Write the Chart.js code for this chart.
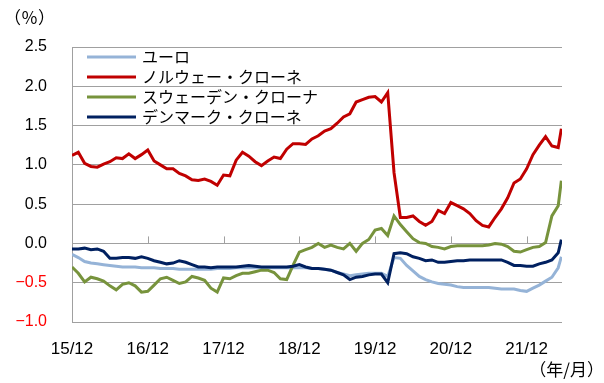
<!DOCTYPE html>
<html>
<head>
<meta charset="utf-8">
<script src="https://cdn.jsdelivr.net/npm/chart.js@4.4.1/dist/chart.umd.min.js"></script>
<style>
  html, body { margin: 0; padding: 0; background: #fff; }
  #wrap { width: 604px; height: 383px; position: relative; }
</style>
</head>
<body>
<div id="wrap"><canvas id="myChart"></canvas></div>
<script>
// months counted from Dec 2015, one point per month end
const months = [];
for (let i = 0; i < 78; i++) months.push(i);
months.push(77.5);

const tickMonths = [0, 12, 24, 36, 48, 60, 72];
const tickLabels = ['15/12', '16/12', '17/12', '18/12', '19/12', '20/12', '21/12'];

const seriesNames = ['ユーロ', 'ノルウェー・クローネ', 'スウェーデン・クローナ', 'デンマーク・クローネ'];

const euro = [
  -0.14, -0.18, -0.23, -0.25, -0.26, -0.27, -0.28, -0.29, -0.30, -0.30,
  -0.30, -0.31, -0.31, -0.31, -0.32, -0.32, -0.32, -0.33, -0.33, -0.33,
  -0.33, -0.33, -0.33, -0.32, -0.32, -0.32, -0.31, -0.31, -0.31, -0.31,
  -0.31, -0.31, -0.31, -0.31, -0.31, -0.31, -0.31, -0.31, -0.32, -0.32,
  -0.33, -0.34, -0.37, -0.39, -0.41, -0.40, -0.39, -0.38, -0.38, -0.38,
  -0.42, -0.18, -0.19, -0.28, -0.35, -0.42, -0.46, -0.49, -0.51, -0.52,
  -0.53, -0.55, -0.56, -0.56, -0.56, -0.56, -0.56, -0.57, -0.58, -0.58,
  -0.58, -0.60, -0.61, -0.57, -0.53, -0.48, -0.43, -0.31, -0.17
];

const norway = [
  1.12, 1.16, 1.02, 0.98, 0.97, 1.01, 1.04, 1.09, 1.08, 1.14,
  1.08, 1.13, 1.19, 1.05, 1.00, 0.95, 0.95, 0.89, 0.86, 0.81,
  0.80, 0.82, 0.79, 0.74, 0.87, 0.86, 1.06, 1.16, 1.11, 1.04,
  0.99, 1.05, 1.10, 1.08, 1.20, 1.27, 1.27, 1.26, 1.33, 1.37,
  1.43, 1.46, 1.53, 1.61, 1.65, 1.80, 1.83, 1.86, 1.87, 1.80,
  1.92, 0.90, 0.33, 0.33, 0.35, 0.28, 0.23, 0.28, 0.42, 0.38,
  0.52, 0.48, 0.44, 0.38, 0.29, 0.23, 0.21, 0.33, 0.44, 0.58,
  0.77, 0.82, 0.95, 1.13, 1.25, 1.36, 1.24, 1.22, 1.46
];

const sweden = [
  -0.30, -0.38, -0.49, -0.43, -0.45, -0.48, -0.54, -0.59, -0.52, -0.50,
  -0.54, -0.62, -0.61, -0.53, -0.45, -0.43, -0.47, -0.51, -0.49, -0.42,
  -0.44, -0.47, -0.57, -0.62, -0.44, -0.45, -0.41, -0.38, -0.38, -0.36,
  -0.34, -0.34, -0.37, -0.45, -0.46, -0.28, -0.11, -0.08, -0.05, 0.00,
  -0.05, -0.02, -0.05, -0.07, 0.00, -0.10, 0.00, 0.05, 0.17, 0.19,
  0.10, 0.35, 0.24, 0.15, 0.06, 0.01, 0.00, -0.04, -0.05, -0.07,
  -0.04, -0.03, -0.03, -0.03, -0.03, -0.03, -0.02, 0.00, -0.01, -0.04,
  -0.10, -0.11, -0.08, -0.05, -0.04, 0.01, 0.35, 0.48, 0.80
];

const denmark = [
  -0.07, -0.07, -0.06, -0.08, -0.07, -0.10, -0.19, -0.19, -0.18, -0.18,
  -0.19, -0.17, -0.19, -0.22, -0.24, -0.26, -0.25, -0.22, -0.24, -0.27,
  -0.30, -0.30, -0.31, -0.30, -0.30, -0.30, -0.30, -0.29, -0.28, -0.29,
  -0.30, -0.30, -0.30, -0.30, -0.30, -0.29, -0.27, -0.30, -0.32, -0.32,
  -0.33, -0.34, -0.37, -0.40, -0.46, -0.43, -0.42, -0.40, -0.39, -0.39,
  -0.50, -0.13, -0.12, -0.13, -0.17, -0.19, -0.22, -0.21, -0.24, -0.24,
  -0.23, -0.22, -0.22, -0.21, -0.21, -0.21, -0.21, -0.21, -0.21, -0.24,
  -0.28, -0.28, -0.29, -0.29, -0.26, -0.24, -0.21, -0.12, 0.05
];

const colors = ['#95b3d7', '#c00000', '#77933c', '#002060'];
const gridColor = '#a0a0a0';
const font = "'Liberation Sans', 'Noto Sans CJK JP', sans-serif";
const jpFont = "'Noto Sans CJK JP', sans-serif";

function toPoints(values) {
  return values.map((v, i) => ({ x: months[i], y: v }));
}

// legend, unit labels and the small ticks on the zero line
const extras = {
  id: 'extras',
  beforeDatasetsDraw(chart) {
    const c = chart.ctx;
    const x = chart.scales.x;
    const y0 = chart.scales.y.getPixelForValue(0);
    c.save();
    c.strokeStyle = gridColor;
    c.lineWidth = 1;
    tickMonths.slice(1).forEach(m => {
      const px = Math.round(x.getPixelForValue(m)) + 0.5;
      c.beginPath();
      c.moveTo(px, y0);
      c.lineTo(px, y0 - 7);
      c.stroke();
    });
    c.restore();
  },
  afterDraw(chart) {
    const c = chart.ctx;
    c.save();
    c.font = '16px ' + jpFont;
    c.fillStyle = '#000';
    c.textBaseline = 'middle';
    seriesNames.forEach((name, i) => {
      const ly = 57 + i * 20;
      c.strokeStyle = colors[i];
      c.lineWidth = 3;
      c.beginPath();
      c.moveTo(87, ly);
      c.lineTo(136, ly);
      c.stroke();
      c.fillText(name, 142, ly);
    });
    c.font = '17px ' + jpFont;
    c.fillText('（％）', 4, 18);
    c.textAlign = 'right';
    c.fillText('（年/月）', 604, 370);
    c.restore();
  }
};

const ctx = document.getElementById('myChart');

new Chart(ctx, {
  type: 'line',
  data: {
    datasets: [euro, norway, sweden, denmark].map((vals, i) => ({
      label: seriesNames[i],
      data: toPoints(vals),
      borderColor: colors[i],
      borderWidth: 3,
      pointRadius: 0,
      tension: 0,
      order: 4 - i
    }))
  },
  options: {
    responsive: true,
    maintainAspectRatio: false,
    animation: false,
    layout: { padding: { top: 47, right: 42, left: 0, bottom: 0 } },
    plugins: {
      legend: { display: false },
      tooltip: { enabled: false }
    },
    scales: {
      x: {
        type: 'linear',
        min: 0,
        max: 77.6,
        afterBuildTicks: s => { s.ticks = tickMonths.map(v => ({ value: v })); },
        afterFit: s => { s.height = 61; },
        grid: { display: false, drawTicks: false },
        border: { display: false },
        ticks: {
          padding: 17,
          maxRotation: 0,
          autoSkip: false,
          color: '#000',
          font: { size: 17, family: font },
          callback: (v) => tickLabels[tickMonths.indexOf(v)]
        }
      },
      y: {
        min: -1,
        max: 2.5,
        afterFit: s => { s.width = 72; },
        grid: { color: gridColor, lineWidth: 1, drawTicks: false },
        border: { color: gridColor, width: 1 },
        ticks: {
          stepSize: 0.5,
          padding: 25,
          font: { size: 16, family: font },
          color: c => c.tick.value < 0 ? '#ff0000' : '#000',
          callback: v => (v < 0 ? '−' : '') + Math.abs(v).toFixed(1)
        }
      }
    }
  },
  plugins: [extras]
});
</script>
</body>
</html>
